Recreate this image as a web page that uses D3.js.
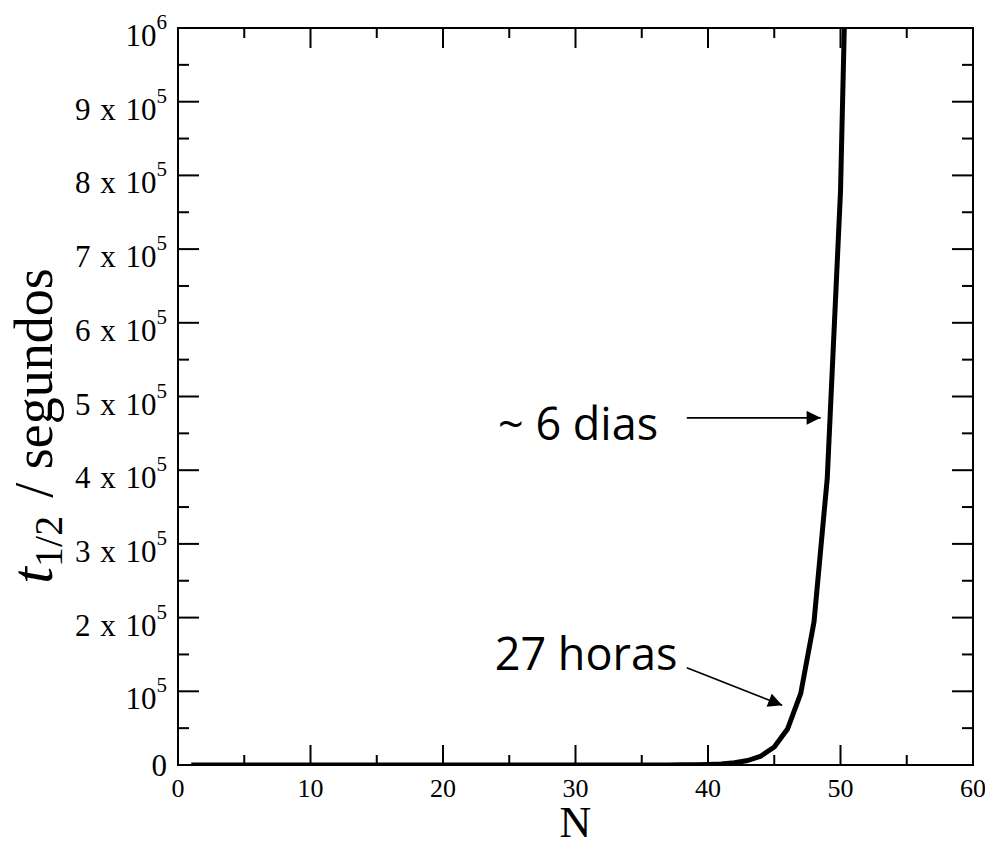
<!DOCTYPE html>
<html>
<head>
<meta charset="utf-8">
<script src="https://cdn.jsdelivr.net/npm/d3@7"></script>
<style>
  body { margin: 0; background: #fff; }
  svg { display: block; }
</style>
</head>
<body>
<div id="container"></div>
<script>
// N (numero) e t1/2 em segundos
var nValues = [1, 2, 3, 4, 5, 6, 7, 8, 9, 10, 11, 12, 13, 14, 15, 16, 17, 18, 19, 20,
               21, 22, 23, 24, 25, 26, 27, 28, 29, 30, 31, 32, 33, 34, 35, 36, 37, 38, 39, 40,
               41, 42, 43, 44, 45, 46, 47, 48, 49, 50, 51];
var tValues = [0, 0, 0, 0, 0, 0, 0, 0, 0, 0, 0, 0, 0, 0, 0, 0, 0, 0, 0, 0,
               0, 0, 0, 0, 0, 0, 0, 0, 0, 0, 1, 3, 6, 12, 24, 48, 95, 190, 380, 760,
               1500, 3000, 6100, 12200, 24400, 48800, 97200, 194000, 389000, 778000, 1556000];

var xTicks = [0, 10, 20, 30, 40, 50, 60];
var yTicks = [0, 1e5, 2e5, 3e5, 4e5, 5e5, 6e5, 7e5, 8e5, 9e5, 1e6];
var yTickMain = ["0", "10", "2 x 10", "3 x 10", "4 x 10", "5 x 10", "6 x 10", "7 x 10", "8 x 10", "9 x 10", "10"];
var yTickSup = ["", "5", "5", "5", "5", "5", "5", "5", "5", "5", "6"];

var notas = [
  {texto: "~ 6 dias", tx: 24.15, ty: 4.41e5, x1: 38.4, y1: 4.71e5, x2: 48.5, y2: 4.71e5},
  {texto: "27 horas", tx: 23.9, ty: 1.29e5, x1: 38.4, y1: 1.32e5, x2: 45.6, y2: 0.81e5}
];

var W = 985, H = 841,
    margin = {top: 28, right: 12, bottom: 76, left: 178},
    width = W - margin.left - margin.right,
    height = H - margin.top - margin.bottom;

var svg = d3.select("div#container").append("svg").attr("width", W).attr("height", H);
var g = svg.append("g").attr("transform", "translate(" + margin.left + "," + margin.top + ")");

var xScale = d3.scaleLinear().domain([0, 60]).range([0, width]);
var yScale = d3.scaleLinear().domain([0, 1e6]).range([height, 0]);

// marcas maiores e menores, para dentro, nos quatro lados
var xMinor = d3.range(5, 60, 10), yMinor = d3.range(5e4, 1e6, 1e5);
function ticks(axis, vals, len, mirror) {
  g.append("g").selectAll("line").data(vals).enter().append("line")
    .attr("x1", function(d) { return axis == "x" ? xScale(d) : (mirror ? width : 0); })
    .attr("x2", function(d) { return axis == "x" ? xScale(d) : (mirror ? width - len : len); })
    .attr("y1", function(d) { return axis == "y" ? yScale(d) : (mirror ? 0 : height); })
    .attr("y2", function(d) { return axis == "y" ? yScale(d) : (mirror ? len : height - len); })
    .attr("stroke", "#000").attr("stroke-width", 2);
}
ticks("x", xTicks, 20, false); ticks("x", xTicks, 20, true);
ticks("x", xMinor, 10, false); ticks("x", xMinor, 10, true);
ticks("y", yTicks, 21, false); ticks("y", yTicks, 21, true);
ticks("y", yMinor, 11, false); ticks("y", yMinor, 11, true);

// curva
svg.append("defs").append("clipPath").attr("id", "clip")
  .append("rect").attr("width", width).attr("height", height);

var dados = nValues.map(function(n, i) { return [n, tValues[i]]; });
var line = d3.line()
  .x(function(d) { return xScale(d[0]); })
  .y(function(d) { return yScale(d[1]); });

g.append("path").datum(dados)
  .attr("clip-path", "url(#clip)")
  .attr("d", line)
  .attr("fill", "none")
  .attr("stroke", "#000")
  .attr("stroke-width", 5)
  .attr("stroke-linejoin", "round");

// moldura
g.append("rect").attr("width", width).attr("height", height)
  .attr("fill", "none").attr("stroke", "#000").attr("stroke-width", 2);

// rotulos do eixo x
g.append("g").selectAll("text").data(xTicks).enter().append("text")
  .attr("x", function(d) { return xScale(d); })
  .attr("y", height + 32)
  .attr("text-anchor", "middle")
  .style("font-family", "'Liberation Serif', serif")
  .style("font-size", "26px")
  .text(function(d) { return d; });

// rotulos do eixo y
var yl = g.append("g").selectAll("text").data(yTicks).enter().append("text")
  .attr("x", -11)
  .attr("y", function(d, i) { return yScale(d) + (yTickSup[i] ? 18 : 11); })
  .attr("text-anchor", "end")
  .style("font-family", "'Liberation Serif', serif")
  .style("font-size", "31px")
  .style("word-spacing", "2px");
yl.append("tspan").text(function(d, i) { return yTickMain[i]; });
yl.append("tspan").attr("dy", -17).style("font-size", "21px")
  .text(function(d, i) { return yTickSup[i]; });

// titulos
g.append("text")
  .attr("x", width / 2).attr("y", height + 72)
  .attr("text-anchor", "middle")
  .style("font-family", "'Liberation Serif', serif")
  .style("font-size", "44px")
  .text("N");

var yt = svg.append("text")
  .attr("transform", "translate(52,426) rotate(-90)")
  .attr("text-anchor", "middle")
  .style("font-family", "'Liberation Serif', serif")
  .style("font-size", "54px");
yt.append("tspan").style("font-style", "italic").style("font-size", "60px").text("t");
yt.append("tspan").attr("dy", 10).style("font-size", "40px").text("1/2");
yt.append("tspan").attr("dy", -10).attr("dx", 18).text("/ segundos");

// anotacoes com setas
svg.append("defs").append("marker").attr("id", "seta")
  .attr("viewBox", "0 0 10 10").attr("refX", 10).attr("refY", 5)
  .attr("markerWidth", 16).attr("markerHeight", 14).attr("markerUnits", "userSpaceOnUse")
  .attr("orient", "auto")
  .append("path").attr("d", "M0,0L10,5L0,10Z").attr("fill", "#000");

var nt = g.append("g").selectAll("g").data(notas).enter().append("g");
nt.append("text")
  .attr("x", function(d) { return xScale(d.tx); })
  .attr("y", function(d) { return yScale(d.ty); })
  .style("font-family", "'Open Sans', sans-serif")
  .style("font-size", "45px")
  .text(function(d) { return d.texto; });
nt.append("line")
  .attr("x1", function(d) { return xScale(d.x1); })
  .attr("y1", function(d) { return yScale(d.y1); })
  .attr("x2", function(d) { return xScale(d.x2); })
  .attr("y2", function(d) { return yScale(d.y2); })
  .attr("stroke", "#000").attr("stroke-width", 1.6)
  .attr("marker-end", "url(#seta)");
</script>
</body>
</html>
